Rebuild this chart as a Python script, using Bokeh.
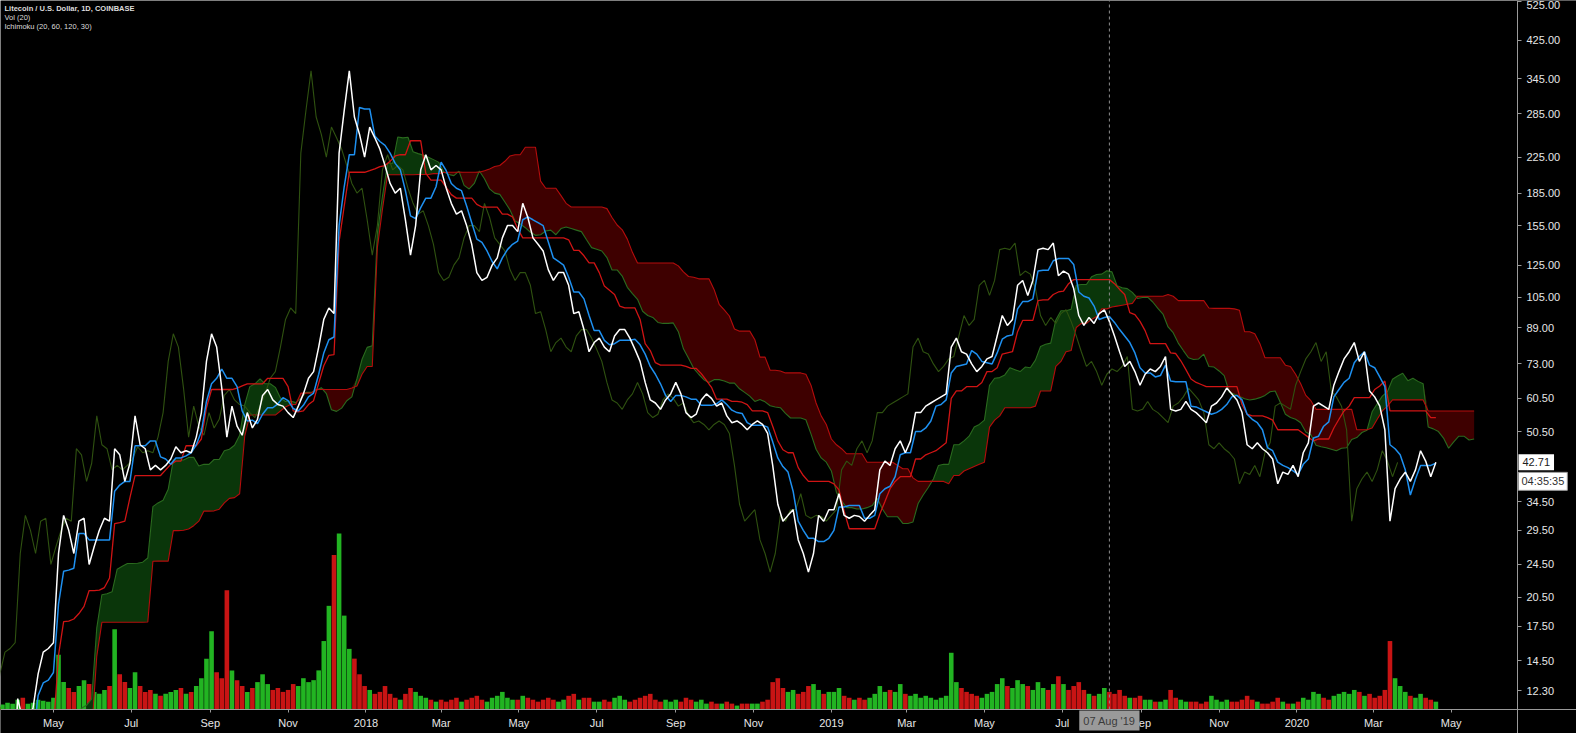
import numpy as np
import pandas as pd
from bokeh.plotting import figure
from bokeh.models import (Range1d, LinearScale, FixedTicker, NumeralTickFormatter,
                          Label, ColumnDataSource, LogAxis, LinearAxis)
from bokeh.embed import file_html
from bokeh.resources import INLINE

# ---------------- data ----------------
start_date = "2017-01-01"
step_days = 4

close = [
    # 2017
    4.4, 4.3, 3.9, 3.8, 3.9, 3.85, 3.8, 3.9,
    4.0, 3.9, 3.8, 3.75, 3.8, 3.85, 3.9,
    4.0, 3.95, 3.9, 3.9, 4.0, 4.4, 5.5, 7.0,
    11.8, 10.5, 10.6, 11.2, 13.5, 15.2, 15.5,
    16.0, 26.0, 32.0, 29.5, 26.0, 31.0, 31.5, 24.5,
    27.0, 29.5, 31.5, 31.0, 46.0, 44.5, 38.5, 42.5,
    55.0, 47.0, 46.0, 41.0, 42.0, 41.0, 42.0,
    43.5, 46.5, 45.0, 45.5, 45.0, 49.0, 56.0, 74.0,
    86.0, 80.0, 64.0, 49.0, 58.0, 52.0, 49.5,
    56.0, 51.5, 54.0, 61.5, 63.5, 60.0, 58.5, 58.0,
    56.0, 54.5, 58.0, 62.0, 67.5, 70.0, 80.0, 93.0,
    99.0, 96.0, 230.0, 290.0, 360.0, 280.0, 255.0, 225.0,
    # 2018
    265, 250, 235, 215, 195, 185, 190,
    160, 132, 155, 210, 228, 210, 215,
    210, 190, 175, 165, 168, 155, 140, 120,
    115, 117, 125, 130, 145, 155, 155, 150,
    175, 162, 145, 140, 135, 122, 115,
    120, 120, 112, 96, 97, 88, 78, 82,
    84, 80, 78, 85, 88, 88, 84, 79,
    74, 66, 60, 59, 57, 60, 62,
    66, 62, 56, 54.5, 55.5, 60, 62, 60.5,
    58, 59, 55, 53, 53.5, 52.5, 51, 52.5,
    53.5, 52.5, 50, 42, 34, 31, 32,
    33, 28, 26, 23.5, 26, 32, 31, 33,
    # 2019
    33, 36, 32, 31.5, 32, 31.8, 31, 32,
    33, 41, 43, 42, 46, 48, 45,
    48, 56, 56, 58, 59, 60, 61, 62,
    80, 84, 78, 77, 73, 70, 72,
    75, 76, 85, 95, 90, 93, 112, 115,
    106, 115, 136, 137, 136, 141, 118,
    121, 119, 110, 95, 90, 94, 91, 96,
    98, 92, 85, 78, 72, 74, 70, 65,
    69, 71, 70, 72, 76, 57, 56.5,
    57, 59.5, 57, 56, 54.5, 53, 58, 59,
    61, 64, 62, 60, 56, 47, 46,
    47.5, 46, 45, 43.5, 38, 40.5, 40, 42,
    # 2020
    39.5, 45, 47.5, 58, 59, 58, 57,
    65, 70, 75, 78, 82, 74, 78, 63,
    61, 58, 51, 31, 37, 39, 40.5,
    38.5, 41, 45.5, 43, 39.5, 42.71,
]

# daily volume on each sampled day, millions of LTC
volume = [
    # 2017
    0.15, 0.12, 0.1, 0.1, 0.12, 0.1, 0.1, 0.12,
    0.1, 0.12, 0.1, 0.1, 0.1, 0.12, 0.1,
    0.12, 0.1, 0.12, 0.15, 0.2, 0.25, 0.35, 0.3,
    0.5, 0.6, 0.3, 0.35, 0.5, 0.45, 0.4,
    0.6, 2.8, 1.4, 1.1, 0.9, 1.2, 1.5, 1.3,
    0.9, 0.8, 1.0, 1.2, 4.1, 1.8, 1.4, 1.1,
    1.9, 1.2, 0.9, 1.0, 0.8, 0.7, 0.8,
    0.9, 1.0, 1.1, 0.8, 0.9, 1.2, 1.6, 2.6,
    4.0, 1.9, 1.6, 6.1, 2.0, 1.5, 1.2,
    0.9, 1.1, 1.4, 1.8, 1.3, 1.0, 1.1, 0.9,
    1.0, 1.3, 1.2, 1.6, 1.4, 1.5, 2.0, 3.5,
    5.3, 7.9, 9.0, 4.8, 3.1, 2.6, 1.8, 1.2,
    # 2018
    1.0, 0.8, 0.9, 1.2, 0.8, 0.6, 0.5,
    0.8, 1.1, 0.9, 0.7, 0.6, 0.5, 0.4,
    0.5, 0.4, 0.5, 0.6, 0.4, 0.5, 0.6, 0.7,
    0.5, 0.4, 0.6, 0.7, 0.9, 0.6, 0.5, 0.5,
    0.7, 0.6, 0.5, 0.4, 0.5, 0.6, 0.5,
    0.4, 0.5, 0.7, 0.8, 0.5, 0.6, 0.6, 0.4,
    0.4, 0.5, 0.4, 0.6, 0.7, 0.5, 0.4, 0.5,
    0.6, 0.7, 0.8, 0.5, 0.4, 0.5, 0.4,
    0.5, 0.4, 0.6, 0.5, 0.4, 0.5, 0.3, 0.4,
    0.3, 0.3, 0.4, 0.3, 0.2, 0.3, 0.3, 0.3,
    0.3, 0.4, 0.5, 1.4, 1.6, 1.1, 0.9,
    1.0, 0.8, 0.9, 1.2, 1.3, 1.0, 0.8, 0.9,
    # 2019
    0.9, 1.1, 0.7, 0.6, 0.5, 0.6, 0.5, 0.6,
    0.8, 1.2, 0.9, 1.0, 0.9, 1.3, 0.8,
    0.7, 0.8, 0.6, 0.7, 0.6, 0.5, 0.6, 0.7,
    2.9, 1.4, 1.1, 0.9, 0.8, 0.7, 0.6,
    0.8, 0.9, 1.3, 1.6, 1.2, 1.1, 1.5, 1.3,
    1.2, 1.0, 1.4, 1.1, 1.0, 1.3, 1.7,
    1.3, 1.0, 1.2, 1.4, 1.0, 0.8, 0.7, 0.8,
    1.1, 0.9, 0.8, 1.0, 0.7, 0.6, 0.6, 0.7,
    0.5, 0.5, 0.4, 0.4, 0.5, 1.0, 0.6,
    0.5, 0.4, 0.4, 0.4, 0.3, 0.4, 0.7, 0.5,
    0.4, 0.5, 0.4, 0.4, 0.5, 0.7, 0.5,
    0.4, 0.3, 0.3, 0.4, 0.6, 0.4, 0.3, 0.3,
    # 2020
    0.4, 0.6, 0.5, 0.9, 0.8, 0.6, 0.5,
    0.7, 0.8, 0.9, 0.8, 1.0, 0.9, 0.7, 0.8,
    0.6, 0.7, 1.0, 3.5, 1.6, 1.2, 0.9,
    0.7, 0.6, 0.8, 0.6, 0.5, 0.4,
]

price_ticks = [12.3, 14.5, 17.5, 20.5, 24.5, 29.5, 34.5, 50.5, 60.5, 73.0, 89.0,
               105.0, 125.0, 155.0, 185.0, 225.0, 285.0, 345.0, 425.0, 525.0]
month_ticks = ["2017-05-01", "2017-07-01", "2017-09-01", "2017-11-01", "2018-01-01",
               "2018-03-01", "2018-05-01", "2018-07-01", "2018-09-01", "2018-11-01",
               "2019-01-01", "2019-03-01", "2019-05-01", "2019-07-01", "2019-09-01",
               "2019-11-01", "2020-01-01", "2020-03-01", "2020-05-01"]
month_labels = ["May", "Jul", "Sep", "Nov", "2018", "Mar", "May", "Jul", "Sep", "Nov",
                "2019", "Mar", "May", "Jul", "Sep", "Nov", "2020", "Mar", "May"]

title_lines = ["Litecoin / U.S. Dollar, 1D, COINBASE", "Vol (20)", "Ichimoku (20, 60, 120, 30)"]
last_price = 42.71
countdown = "04:35:35"
cursor_date = "2019-08-07"
cursor_label = "07 Aug '19"
ichimoku_params = (20, 60, 120, 30)   # conversion, base, span B, displacement (days)

# ---------------- derived ----------------
MS_DAY = 86400000.0
dates = pd.date_range(start_date, periods=len(close), freq=f"{step_days}D")
x = (dates.asi8 // 1_000_000).astype(float)
s = pd.Series(close, dtype=float)


def donchian_mid(period_days):
    n = max(1, int(round(period_days / step_days)))
    return ((s.rolling(n).max() + s.rolling(n).min()) / 2.0).to_numpy()


conv_p, base_p, spanb_p, disp = ichimoku_params
conv = donchian_mid(conv_p)
base = donchian_mid(base_p)
span_a = (conv + base) / 2.0
span_b = donchian_mid(spanb_p)
x_lead = x + disp * MS_DAY
x_lag = x - disp * MS_DAY


def ms(d):
    return float(pd.Timestamp(d).value // 1_000_000)


# ---------------- geometry ----------------
W, H = 1576, 733          # whole figure
DW, DH = 1517, 709        # chart area (price scale to the right, time scale below)
ref = pd.Timestamp("2018-01-01")
x_start = ms(ref - pd.Timedelta(days=286.5))
x_end = ms(ref + pd.Timedelta(days=903))
y_lo, y_hi = 11.12, 528.0
x_ext = x_start + (x_end - x_start) * W / DW
L = np.log(y_hi) - np.log(y_lo)
y_ext = float(np.exp(np.log(y_lo) - L * (H - DH) / DH))
VOL_TOP = 36.25
vol_ext = -VOL_TOP * (H - DH) / DH

p = figure(width=W, height=H, output_backend="svg", toolbar_location=None,
           x_range=Range1d(x_start, x_ext), y_range=Range1d(y_ext, y_hi),
           y_axis_type="log", x_axis_location=None, y_axis_location=None,
           background_fill_color="#000000", border_fill_color="#000000",
           min_border_left=0, min_border_top=0, min_border_right=0, min_border_bottom=0)
p.outline_line_color = None
p.grid.visible = False
p.extra_y_ranges = {"vol": Range1d(vol_ext, VOL_TOP)}
p.extra_y_scales = {"vol": LinearScale()}

# volume
vol_col = ["#22b422" if i == 0 or close[i] >= close[i - 1] else "#c81414"
           for i in range(len(close))]
vsrc = ColumnDataSource(dict(x=x, v=volume, c=vol_col))
p.vbar(x="x", top="v", bottom=0, width=3.6 * MS_DAY, fill_color="c", line_color=None,
       y_range_name="vol", source=vsrc)

# cloud
ok = ~(np.isnan(span_a) | np.isnan(span_b))
xa, A, B = x_lead[ok], span_a[ok], span_b[ok]
upper = np.maximum(A, B)
p.varea(x=xa, y1=B, y2=upper, fill_color="#0a360a")
p.varea(x=xa, y1=A, y2=upper, fill_color="#3e0000")
p.line(x_lead, span_a, line_color="#2a6a1e", line_width=1.1)
p.line(x_lead, span_b, line_color="#b40c0c", line_width=1.1)

# lagging span
p.line(x_lag, close, line_color="#2f5210", line_width=1.1)
# base & conversion
p.line(x, base, line_color="#d01414", line_width=1.3)
p.line(x, conv, line_color="#1e90f0", line_width=1.5)
# price
p.line(x, close, line_color="#ffffff", line_width=1.5)

# crosshair (vertical dashed line)
cx = ms(cursor_date)
p.segment(x0=[cx], y0=[y_lo], x1=[cx], y1=[y_hi], line_color="#8c8c8c",
          line_dash="3 3", line_width=1)

# keep the scale areas clear of the data
p.quad(left=[x_start, x_end], right=[x_ext, x_ext], bottom=[y_ext, y_ext],
       top=[y_lo, y_hi], fill_color="#000000", line_color=None)

# axes (drawn at fixed positions, take no panel space)
FONT = "Liberation Sans"
xax = LinearAxis(fixed_location=y_lo,
                 ticker=FixedTicker(ticks=[ms(d) for d in month_ticks], minor_ticks=[]))
xax.major_label_overrides = {ms(d): lab for d, lab in zip(month_ticks, month_labels)}
yax = LogAxis(fixed_location=x_end,
              ticker=FixedTicker(ticks=price_ticks, minor_ticks=[]),
              formatter=NumeralTickFormatter(format="0.00"))
for ax in (xax, yax):
    ax.axis_line_color = "#9a9a9a"
    ax.major_tick_line_color = "#9a9a9a"
    ax.major_tick_in = 0
    ax.minor_tick_line_color = None
    ax.major_label_text_color = "#e6e6e6"
    ax.major_label_text_font = FONT
    ax.major_label_text_font_size = "11px"
xax.major_tick_out = 3
xax.major_label_standoff = 4
yax.major_tick_out = 4
yax.major_label_standoff = 5
p.add_layout(xax, "below")
p.add_layout(yax, "right")

# legend text
for i, t in enumerate(title_lines):
    p.add_layout(Label(x=x_start, y=y_hi, x_offset=4, y_offset=-3 - 9.3 * i, text=t,
                       text_baseline="top", text_align="left", text_color="#dcdcdc",
                       text_font=FONT, text_font_size="7.5px",
                       text_font_style="bold" if i == 0 else "normal"))

# price boxes on the scale
p.add_layout(Label(x=x_end, y=last_price, x_offset=1, text=f"{last_price:.2f}",
                   text_baseline="middle", text_align="left", text_color="#202020",
                   text_font=FONT, text_font_size="11px", background_fill_color="#ffffff",
                   padding=4))
p.add_layout(Label(x=x_end, y=last_price, x_offset=1, y_offset=-19, text=countdown,
                   text_baseline="middle", text_align="left", text_color="#303030",
                   text_font=FONT, text_font_size="11px", background_fill_color="#ffffff",
                   border_line_color="#9a9a9a", padding=3))
# crosshair date box
p.add_layout(Label(x=cx, y=y_lo, y_offset=-11, text=cursor_label,
                   text_baseline="middle", text_align="center", text_color="#3a3a3a",
                   text_font=FONT, text_font_size="11px", background_fill_color="#9a9a9a",
                   padding=4))

open("out.html", "w").write(file_html(p, INLINE))
